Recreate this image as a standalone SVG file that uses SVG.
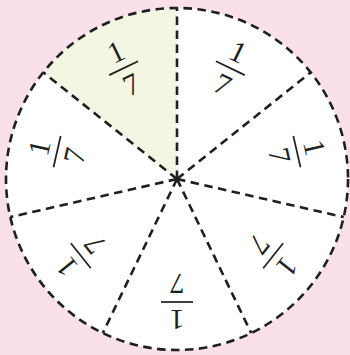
<svg xmlns="http://www.w3.org/2000/svg" width="350" height="355" viewBox="0 0 350 355">
<style>
.d{fill:none;stroke:#1f1f1f;stroke-width:2.6;stroke-dasharray:8.5 5.5}
.t{font-family:"Liberation Serif",serif;font-size:30px;text-anchor:middle;fill:#1f1f1f}
.b{stroke:#1f1f1f;stroke-width:1.7}
</style>
<defs>
<g id="frac">
<line class="b" x1="-16" y1="0" x2="16" y2="0"/>
<text class="t" x="0" y="-8">1</text>
<text class="t" x="0" y="28">7</text>
</g>
</defs>
<rect width="350" height="355" fill="#f9e0ea"/>
<g id="disk">
<circle cx="177" cy="179" r="171" fill="#ffffff"/>
<path d="M177,179 L43.31,72.38 A171,171 0 0 1 177,8 Z" fill="#f3f6e2"/>
</g>
<g id="connectors">
<circle class="d" cx="177" cy="179" r="171"/>
<line class="d" x1="177" y1="179" x2="177" y2="8"/>
<line class="d" x1="177" y1="179" x2="310.69" y2="72.38"/>
<line class="d" x1="177" y1="179" x2="343.71" y2="217.05"/>
<line class="d" x1="177" y1="179" x2="251.19" y2="333.07"/>
<line class="d" x1="177" y1="179" x2="102.81" y2="333.07"/>
<line class="d" x1="177" y1="179" x2="10.29" y2="217.05"/>
<line class="d" x1="177" y1="179" x2="43.31" y2="72.38"/>
</g>
<g id="s1"><use href="#frac" transform="translate(230.37,68.18) rotate(25.71)"/></g>
<g id="s2"><use href="#frac" transform="translate(296.92,151.63) rotate(77.14)"/></g>
<g id="s3"><use href="#frac" transform="translate(273.17,255.69) rotate(128.57)"/></g>
<g id="s4"><use href="#frac" transform="translate(177,302) rotate(180)"/></g>
<g id="s5"><use href="#frac" transform="translate(80.83,255.69) rotate(231.43)"/></g>
<g id="s6"><use href="#frac" transform="translate(57.08,151.63) rotate(282.86)"/></g>
<g id="s7"><use href="#frac" transform="translate(123.63,68.18) rotate(-25.71)"/></g>
</svg>
